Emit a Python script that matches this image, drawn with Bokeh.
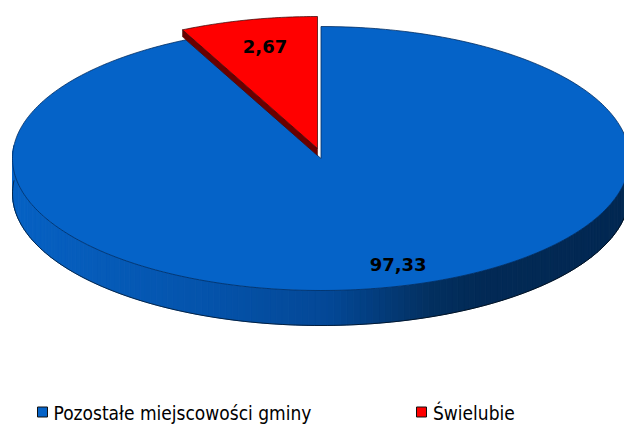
import numpy as np
from bokeh.core.properties import value
from bokeh.embed import file_html
from bokeh.plotting import figure
from bokeh.resources import INLINE

categories = ["Pozostałe miejscowości gminy", "Świelubie"]
shares = [97.33, 2.67]
labels = ["97,33", "2,67"]
fill_colors = ["#0563C8", "#FF0000"]

W, H = 624, 424
p = figure(width=W, height=H, x_range=(0, 624), y_range=(424, 0), output_backend="svg",
           toolbar_location=None, min_border=0, outline_line_color=None, background_fill_color="white",
           border_fill_color="white")
p.xaxis.visible = False
p.yaxis.visible = False
p.grid.visible = False

cx, cy, rx, ry, depth = 320.5, 158.0, 308.5, 132.0, 35.0
# the 3-D view widens the small slice's on-screen sweep
sweep = np.radians(shares[1] / 100 * 360 * 2.7)
ox, oy = -3.5, -10.0


def ell(t, x0=cx, y0=cy):
    return x0 + rx * np.sin(t), y0 - ry * np.cos(t)


def side_color(x):
    xs = [12, 200, 330, 430, 480, 630]
    r = np.interp(x, xs, [7, 5, 4, 3, 2, 2])
    g = np.interp(x, xs, [98, 84, 72, 48, 42, 40])
    b = np.interp(x, xs, [196, 172, 150, 96, 86, 82])
    return f"#{int(r):02x}{int(g):02x}{int(b):02x}"


# blue rim
ts = np.linspace(np.pi / 2 - 0.1, 3 * np.pi / 2 + 0.1, 161)
xa, ya = ell(ts)
xs_q = [[xa[i], xa[i + 1], xa[i + 1], xa[i]] for i in range(len(ts) - 1)]
ys_q = [[ya[i], ya[i + 1], ya[i + 1] + depth, ya[i] + depth] for i in range(len(ts) - 1)]
cols = [side_color((xa[i] + xa[i + 1]) / 2) for i in range(len(ts) - 1)]
p.patches(xs_q, ys_q, fill_color=cols, line_color=cols, line_width=1)
p.line(xa, ya + depth, line_color="#000000", line_width=0.6)

# blue top
t1 = np.linspace(0, 2 * np.pi - sweep, 361)
xt, yt = ell(t1)
p.patch(np.r_[cx, xt], np.r_[cy, yt], fill_color=fill_colors[0], line_color="#032f63", line_width=0.8)

# red wedge: thickness, then top
t2 = np.linspace(2 * np.pi - sweep, 2 * np.pi, 40)
xr, yr = ell(t2, cx + ox, cy + oy)
tip_x, tip_y = xr[0], yr[0]
ax, ay = cx + ox, cy + oy
p.patch([ax, tip_x, tip_x, ax], [ay, tip_y, tip_y + 7, ay + 7], fill_color="#6A0000", line_color="#400000", line_width=0.5)
p.patch(np.r_[ax, xr], np.r_[ay, yr], fill_color=fill_colors[1], line_color="#300000", line_width=0.7)

# value labels
label_x = [cx + 0.25 * rx, ax - 0.17 * rx]
label_y = [cy + 0.8 * ry, ay - 0.77 * ry]
p.text(label_x, label_y, text=labels, text_font=value("DejaVu Sans"), text_font_style="bold",
       text_font_size="18px", text_align="center", text_baseline="middle", text_color="#000000")

# legend
leg_x = [42, 421]
leg_y = [411.5, 411.5]
p.scatter(leg_x, leg_y, marker="square", size=10, fill_color=fill_colors, line_color="#111111", line_width=1)
p.text([53, 432.5], [412.5, 412.5], text=categories, text_font=value("DejaVu Sans Condensed"), text_font_size="19px",
       text_align="left", text_baseline="middle", text_color="#000000")

open("out.html", "w").write(file_html(p, INLINE))
